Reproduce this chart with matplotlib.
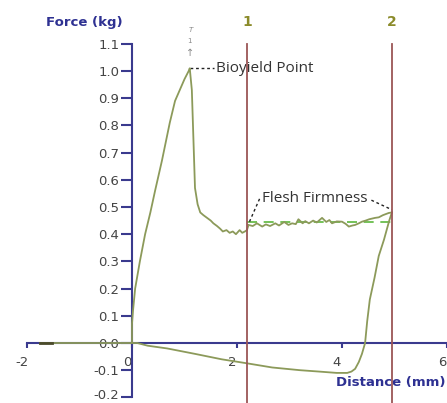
import numpy as np
import matplotlib
matplotlib.use("Agg")
import matplotlib.pyplot as plt
from matplotlib.transforms import ScaledTranslation

# loading curve: rise to bioyield, drop, plateau up to marker 2
load_x = [-1.75, 0.0, 0.0, 0.02, 0.06, 0.15, 0.25, 0.35, 0.44, 0.57, 0.72, 0.82, 0.91, 1.0, 1.08, 1.1,
          1.14, 1.17, 1.2, 1.25, 1.3, 1.36, 1.43, 1.5, 1.55, 1.62, 1.68, 1.73, 1.8, 1.86, 1.92, 1.98,
          2.05, 2.1, 2.15, 2.19, 2.22, 2.3, 2.38, 2.48, 2.55, 2.63, 2.73, 2.8, 2.9, 2.98, 3.05, 3.12,
          3.17, 3.25, 3.3, 3.37, 3.45, 3.52, 3.62, 3.7, 3.76, 3.81, 3.9, 4.0, 4.07, 4.13, 4.2, 4.25,
          4.32, 4.38, 4.45, 4.52, 4.63, 4.7, 4.78, 4.89, 4.95]
load_y = [0.0, 0.0, 0.07, 0.12, 0.2, 0.3, 0.4, 0.48, 0.56, 0.67, 0.81, 0.89, 0.93, 0.97, 1.0, 1.01,
          0.93, 0.75, 0.57, 0.51, 0.48, 0.47, 0.46, 0.45, 0.44, 0.43, 0.42, 0.41, 0.415, 0.405, 0.41, 0.40,
          0.415, 0.405, 0.41, 0.415, 0.434, 0.43, 0.44, 0.428, 0.436, 0.43, 0.44, 0.432, 0.445, 0.434, 0.44, 0.437,
          0.455, 0.44, 0.448, 0.44, 0.45, 0.443, 0.46, 0.445, 0.452, 0.44, 0.447, 0.446, 0.438, 0.428, 0.432, 0.434,
          0.44, 0.446, 0.45, 0.455, 0.46, 0.462, 0.47, 0.478, 0.48]

# unloading curve back to zero
unload_x = [4.95, 4.9, 4.8, 4.7, 4.62, 4.53, 4.48, 4.44, 4.38, 4.32, 4.25, 4.18, 4.1, 3.9, 3.56,
            3.2, 2.67, 2.2, 1.71, 1.2, 0.67, 0.3, 0.1, 0.0]
unload_y = [0.48, 0.45, 0.38, 0.32, 0.24, 0.16, 0.08, 0.0, -0.04, -0.07, -0.095, -0.105, -0.11, -0.11, -0.105,
            -0.1, -0.09, -0.075, -0.06, -0.04, -0.02, -0.01, 0.0, 0.0]

marker_x = [2.19, 4.95]
marker_labels = ["1", "2"]
peak = (1.1, 1.01)
firm_mean = 0.443

xticks = [-2, 0, 2, 4, 6]
yticks = [-0.2, -0.1, 0.0, 0.1, 0.2, 0.3, 0.4, 0.5, 0.6, 0.7, 0.8, 0.9, 1.0, 1.1]

navy = "#3a3a8e"
olive = "#8c9a5a"
brown = "#9b5656"

fig = plt.figure(figsize=(4.47, 4.03), dpi=100)
ax = fig.add_axes([0, 0, 1, 1])
ax.set_xlim(-2.514, 6.0)
ax.set_ylim(-0.2206, 1.261)

for s in ["top", "right"]:
    ax.spines[s].set_visible(False)
ax.spines["left"].set_position(("data", 0))
ax.spines["bottom"].set_position(("data", 0))
ax.spines["left"].set_bounds(-0.2, 1.1)
ax.spines["bottom"].set_bounds(-2, 6)
for s in ["left", "bottom"]:
    ax.spines[s].set_color(navy)
    ax.spines[s].set_linewidth(1.5)

ax.set_yticks(yticks)
ax.set_yticklabels(["%.1f" % v for v in yticks])
ax.set_xticks(xticks)
ax.set_xticklabels([str(v) for v in xticks])
ax.tick_params(axis="y", direction="out", length=8, width=1.5, color=navy, pad=1,
               labelsize=9.5, labelcolor="#444444")
ax.tick_params(axis="x", direction="out", length=3.6, width=1.5, color=navy, pad=6,
               labelsize=9.5, labelcolor="#444444")
for lab in ax.get_xticklabels():
    lab.set_transform(lab.get_transform() + ScaledTranslation(-5 / 100, 0, fig.dpi_scale_trans))
# lowest y label sits at the bottom edge; lift it a little so it stays inside
ylabs = ax.get_yticklabels()
ylabs[0].set_transform(ylabs[0].get_transform() + ScaledTranslation(0, 3 / 100, fig.dpi_scale_trans))

# curves
ax.plot(load_x, load_y, color=olive, lw=1.3, zorder=3)
ax.plot(unload_x, unload_y, color=olive, lw=1.3, zorder=3)
ax.plot([-1.75, -1.52], [0, 0], color="#4a4a2a", lw=2, zorder=4)
ax.plot([marker_x[0], marker_x[1]], [firm_mean, firm_mean], color="#5cb83c", lw=1.2,
        ls=(0, (6, 4)), zorder=2)

# markers 1 and 2
for mx, ml in zip(marker_x, marker_labels):
    ax.plot([mx, mx], [1.1, -0.25], color=brown, lw=1.3, zorder=4, clip_on=False)
    ax.text(mx, 1.18, ml, color="#8b8b2a", fontsize=10, fontweight="bold", ha="center", va="center")

# bioyield annotation
ax.plot([peak[0], 1.56], [peak[1], peak[1]], color="#222222", lw=1, ls=(0, (2, 2)))
ax.text(1.6, peak[1], "Bioyield Point", fontsize=11, family="Open Sans", color="#333333",
        ha="left", va="center")
ax.text(peak[0], 1.066, "\u2191", fontsize=7, color="#888888", ha="center", va="center")
ax.text(peak[0], 1.11, "1", fontsize=5, color="#888888", ha="center", va="center")
ax.text(peak[0] + 0.03, 1.15, "T", fontsize=5, style="italic", color="#888888", ha="center", va="center")

# flesh firmness annotation
ax.text(2.47, 0.533, "Flesh Firmness", fontsize=11, family="Open Sans", color="#333333",
        ha="left", va="center")
ax.plot([2.43, 2.21], [0.53, 0.434], color="#222222", lw=1, ls=(0, (2, 2)))
ax.plot([4.56, 4.95], [0.525, 0.49], color="#222222", lw=1, ls=(0, (2, 2)))

# axis titles
ax.text(-0.9, 1.18, "Force (kg)", fontsize=9.5, fontweight="bold", color="#2e3192",
        ha="center", va="center")
ax.text(5.98, -0.147, "Distance (mm)", fontsize=9.5, fontweight="bold", color="#2e3192",
        ha="right", va="center")

fig.savefig("out.png", dpi=100)
